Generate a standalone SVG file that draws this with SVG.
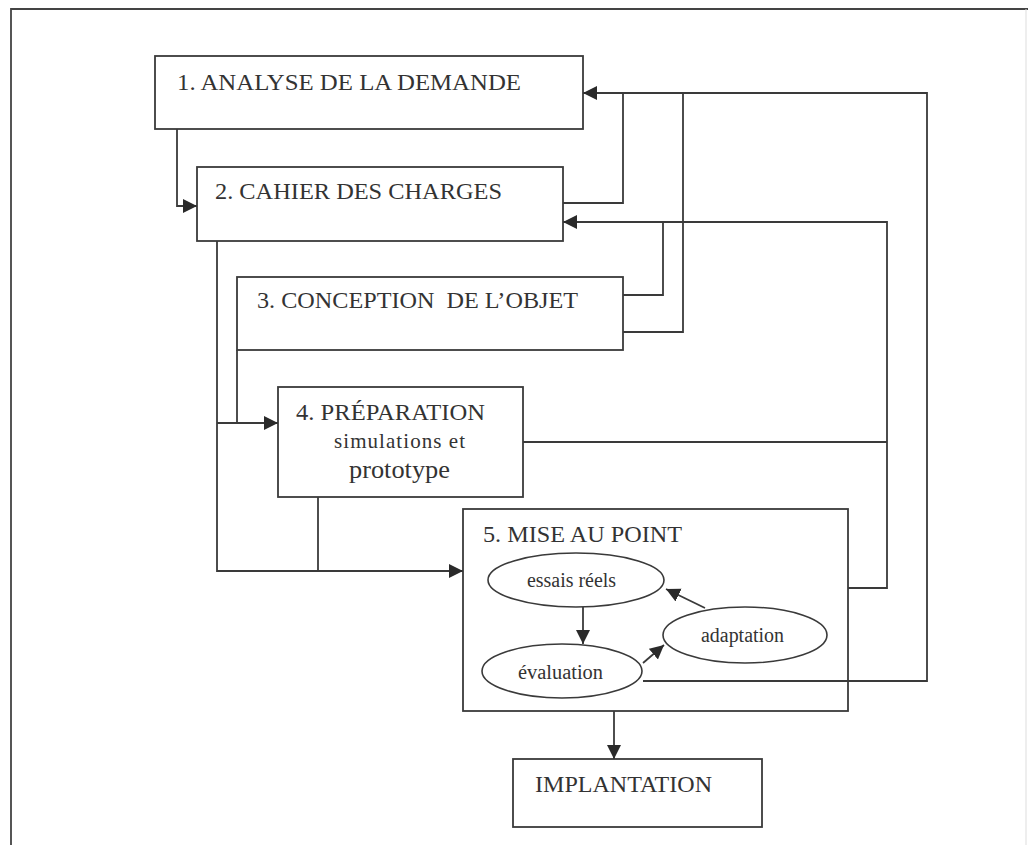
<svg xmlns="http://www.w3.org/2000/svg" width="1028" height="845" viewBox="0 0 1028 845">
<defs>
<marker id="arr" markerUnits="userSpaceOnUse" markerWidth="16" markerHeight="16" refX="14" refY="8" orient="auto">
<path d="M0,1 L14,8 L0,15 Z" fill="#2a2a2a"/>
</marker>
<style>
.box{fill:#fff;stroke:#3a3a3a;stroke-width:1.8}
.ell{fill:#fff;stroke:#3a3a3a;stroke-width:1.6}
.ln{fill:none;stroke:#3a3a3a;stroke-width:1.8}
.t{font-family:"Liberation Serif","Times New Roman",serif;font-size:24px;fill:#333}
.s{font-family:"Liberation Serif","Times New Roman",serif;font-size:20px;fill:#333}
</style>
</defs>
<rect width="1028" height="845" fill="#fff"/>
<g id="frame">
<path d="M11,845 V9 H1028" fill="none" stroke="#444" stroke-width="1.8"/>
<path d="M1026,9 V845" fill="none" stroke="#ddd" stroke-width="1"/>
</g>
<g id="n1">
<rect class="box" x="155" y="56" width="428" height="73"/>
<text class="t" x="177" y="90" textLength="344" lengthAdjust="spacingAndGlyphs">1. ANALYSE DE LA DEMANDE</text>
</g>
<g id="n2">
<rect class="box" x="197" y="167" width="366" height="74"/>
<text class="t" x="215" y="199" textLength="287" lengthAdjust="spacingAndGlyphs">2. CAHIER DES CHARGES</text>
</g>
<g id="n3">
<rect class="box" x="237" y="277" width="386" height="73"/>
<text class="t" x="257" y="308" textLength="321" lengthAdjust="spacingAndGlyphs" xml:space="preserve">3. CONCEPTION  DE L’OBJET</text>
</g>
<g id="n4">
<rect class="box" x="278" y="387" width="245" height="110"/>
<text class="t" x="296" y="420" textLength="189" lengthAdjust="spacingAndGlyphs">4. PRÉPARATION</text>
<text class="t" x="334" y="448" textLength="131" lengthAdjust="spacing" style="font-size:21px">simulations et</text>
<text class="t" x="349" y="478" textLength="101" lengthAdjust="spacingAndGlyphs" style="font-size:25px">prototype</text>
</g>
<g id="n5">
<rect class="box" x="463" y="509" width="385" height="202"/>
<text class="t" x="483" y="542" textLength="199" lengthAdjust="spacingAndGlyphs">5. MISE AU POINT</text>
</g>
<g id="e1">
<ellipse class="ell" cx="576" cy="580" rx="88" ry="27"/>
<text class="s" x="527" y="587" textLength="89" lengthAdjust="spacingAndGlyphs">essais réels</text>
</g>
<g id="e2">
<ellipse class="ell" cx="562" cy="671" rx="80" ry="27"/>
<text class="s" x="518" y="679" textLength="85" lengthAdjust="spacingAndGlyphs">évaluation</text>
</g>
<g id="e3">
<ellipse class="ell" cx="745" cy="635" rx="82" ry="28"/>
<text class="s" x="701" y="642" textLength="83" lengthAdjust="spacingAndGlyphs">adaptation</text>
</g>
<g id="n6">
<rect class="box" x="513" y="759" width="249" height="68"/>
<text class="t" x="535" y="792" textLength="177" lengthAdjust="spacingAndGlyphs">IMPLANTATION</text>
</g>
<g id="connectors">
<path class="ln" d="M177,129 V206 H197" marker-end="url(#arr)"/>
<path class="ln" d="M643,681 H927 V93 H583" marker-end="url(#arr)"/>
<path class="ln" d="M563,203 H623 V93"/>
<path class="ln" d="M623,332 H683 V93"/>
<path class="ln" d="M848,588 H887 V222 H563" marker-end="url(#arr)"/>
<path class="ln" d="M623,295 H663 V222"/>
<path class="ln" d="M523,442 H887"/>
<path class="ln" d="M217,241 V571 H463" marker-end="url(#arr)"/>
<path class="ln" d="M237,350 V423"/>
<path class="ln" d="M217,423 H278" marker-end="url(#arr)"/>
<path class="ln" d="M318,497 V571"/>
<path class="ln" d="M614,711 V759" marker-end="url(#arr)"/>
<path class="ln" d="M583,607 V644" marker-end="url(#arr)"/>
<path class="ln" d="M643,663 L664,645" marker-end="url(#arr)"/>
<path class="ln" d="M705,608 L666,589" marker-end="url(#arr)"/>
</g>
</svg>
